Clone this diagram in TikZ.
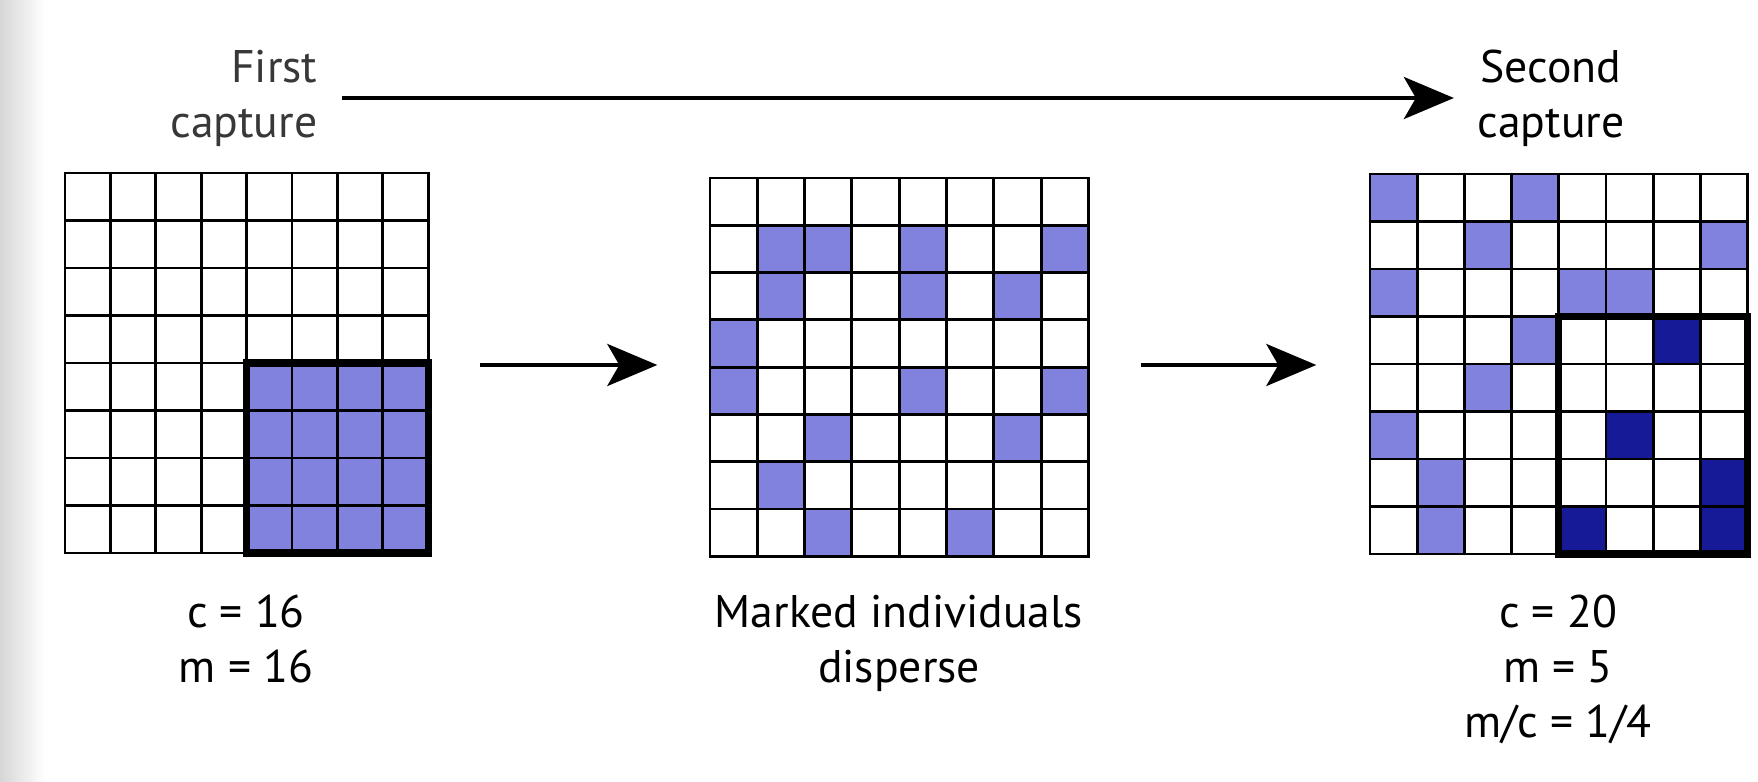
\documentclass[tikz,border=0pt]{standalone}
\usepackage{fontspec}
\setmainfont{PT Sans}
\usepackage{tikz}
\usetikzlibrary{arrows.meta,positioning}
\definecolor{markblue}{RGB}{128,130,222}
\definecolor{recapblue}{RGB}{22,26,150}
\tikzset{
 >={Stealth[length=5mm,width=4.2mm,inset=1.2mm]},
 cellline/.style={line width=0.8pt,line cap=rect},
 thickbox/.style={line width=2.1pt,line cap=rect},
 arrowline/.style={line width=1.2pt},
 caption/.style={shape=rectangle,font=\fontsize{13}{15.6}\selectfont,align=center,inner sep=0pt},
 gridbox/.style={shape=rectangle,inner sep=0pt,minimum height=38mm}
}

\begin{document}
\begin{tikzpicture}[x=0.1mm,y=-0.1mm]
\useasboundingbox (0,0) rectangle (1758,782);
\shade[left color=black!16,right color=white] (0,0) rectangle (45,782);

% first capture: all 16 taken and marked
\begin{scope}[shift={(65,173)},x=4.54mm,y=-4.75mm]
\fill[markblue] (4,4) rectangle (8,8);
\foreach \i in {0,...,8} \draw[cellline] (\i,0) -- (\i,8) (0,\i) -- (8,\i);
\draw[thickbox] (4,4) rectangle (8,8);
\end{scope}

% marked ones spread out
\begin{scope}[shift={(710,178)},x=4.73mm,y=-4.73mm]
\foreach \r/\c in {1/1,1/2,1/4,1/7,2/1,2/4,2/6,3/0,4/0,4/4,4/7,5/2,5/6,6/1,7/2,7/5}
  \fill[markblue] (\c,\r) rectangle ++(1,1);
\foreach \i in {0,...,8} \draw[cellline] (\i,0) -- (\i,8) (0,\i) -- (8,\i);
\end{scope}

% second capture
\begin{scope}[shift={(1370,174)},x=4.72mm,y=-4.75mm]
\foreach \r/\c in {0/0,0/3,1/2,1/7,2/0,2/4,2/5,3/3,4/2,5/0,6/1,7/1}
  \fill[markblue] (\c,\r) rectangle ++(1,1);
\foreach \r/\c in {3/6,5/5,6/7,7/4,7/7}
  \fill[recapblue] (\c,\r) rectangle ++(1,1);
\foreach \i in {0,...,8} \draw[cellline] (\i,0) -- (\i,8) (0,\i) -- (8,\i);
\draw[thickbox] (4,3) rectangle (8,8);
\end{scope}

\path (246,365) node[gridbox,minimum width=36.3mm,name=gridfirst] {};
\path (899,365) node[gridbox,minimum width=37.8mm,name=gridmid] {};
\path (1558,365) node[gridbox,minimum width=37.8mm,name=gridsecond] {};

\path (318,98) node[caption,align=right,anchor=east,text=black!78,name=first] {First\\capture};
\path (1551,98) node[caption,name=second] {Second\\capture};

\path node[caption,below=3.9mm of gridfirst,name=lblfirst] {c = 16\\m = 16};
\path node[caption,below=3.9mm of gridmid,name=lblmid] {Marked individuals\\disperse};
\path node[caption,below=3.9mm of gridsecond,name=lblsecond] {c = 20\\m = 5\\m/c = 1/4};

\path[->,arrowline,shorten <=2.4mm,shorten >=2.3mm] (first.east) edge (second.west);
\path[->,arrowline,shorten <=5.2mm,shorten >=5.2mm] (gridfirst.east) edge (gridmid.west);
\path[->,arrowline,shorten <=5.2mm,shorten >=5.2mm] (gridmid.east) edge (gridsecond.west);
\end{tikzpicture}
\end{document}
